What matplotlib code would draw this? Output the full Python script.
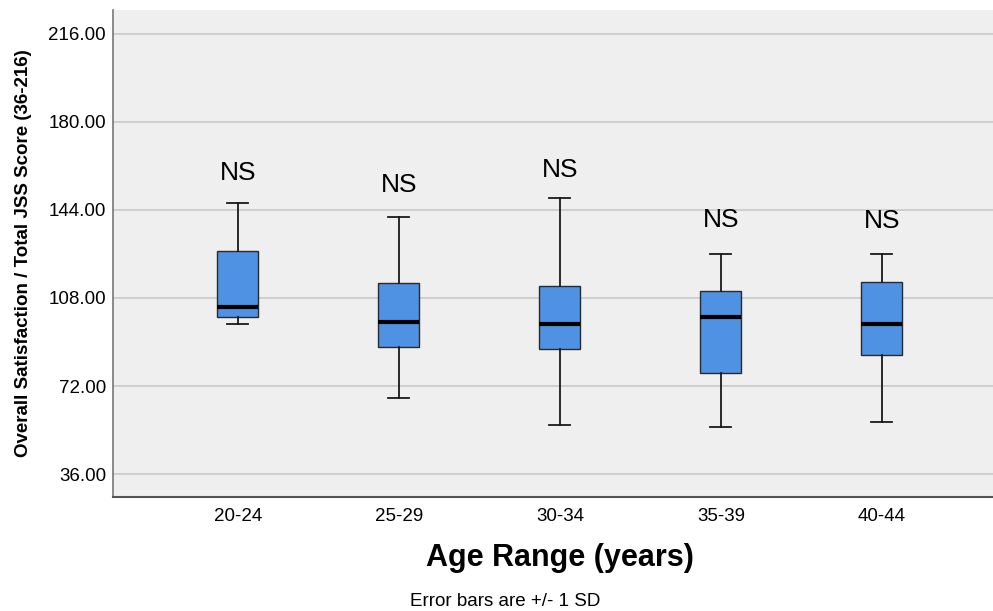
import matplotlib
matplotlib.use("Agg")
import matplotlib.pyplot as plt
from matplotlib.ticker import FormatStrFormatter

plt.rcParams['font.family'] = ['Liberation Sans', 'DejaVu Sans']

# ---- data ----
categories = ["20-24", "25-29", "30-34", "35-39", "40-44"]
whislo = [97.2, 67.2, 56.1, 55.3, 57.2]
q1 = [100.1, 88.1, 87.1, 77.3, 84.8]
med = [104.2, 98.2, 97.3, 100.2, 97.3]
q3 = [127.2, 114.0, 113.0, 111.0, 114.4]
whishi = [147.0, 141.0, 149.0, 126.0, 126.0]
ns_labels = ["NS", "NS", "NS", "NS", "NS"]
ns_y = [159.1, 154.2, 160.4, 139.9, 139.6]
yticks = [36, 72, 108, 144, 180, 216]

fig = plt.figure(figsize=(9.93, 6.11), dpi=100)
ax = fig.add_axes([113/993, 114/611, 1 - 113/993, (497-10)/611])
ax.set_facecolor('#efefef')

stats = []
for i, c in enumerate(categories):
    stats.append(dict(label=c, whislo=whislo[i], q1=q1[i], med=med[i],
                      q3=q3[i], whishi=whishi[i], fliers=[]))

positions = list(range(len(categories)))
ax.bxp(stats, positions=positions, widths=0.255, capwidths=0.13,
       patch_artist=True, showfliers=False,
       boxprops=dict(facecolor='#4f91e3', edgecolor='#2a2a2a', linewidth=1.0),
       medianprops=dict(color='black', linewidth=3),
       whiskerprops=dict(color='#1a1a1a', linewidth=1.3),
       capprops=dict(color='#1a1a1a', linewidth=1.3),
       zorder=3)

for x, y, t in zip(positions, ns_y, ns_labels):
    ax.text(x, y, t, ha='center', va='center', fontsize=19, color='black')

ax.set_xlim(-0.776, 4.69)
ax.set_ylim(26.6, 225.8)
ax.set_yticks(yticks)
ax.yaxis.set_major_formatter(FormatStrFormatter('%.2f'))
ax.set_xticks(positions)
ax.set_xticklabels(categories)
ax.grid(axis='y', color='#c6c6c6', linewidth=1.1, zorder=0)
ax.set_axisbelow(True)
ax.tick_params(axis='both', length=0, labelsize=13.5, colors='black')
ax.tick_params(axis='x', pad=8)
ax.tick_params(axis='y', pad=5)

for s in ['top', 'right']:
    ax.spines[s].set_visible(False)
ax.spines['left'].set_color('#777777')
ax.spines['left'].set_linewidth(1.2)
ax.spines['bottom'].set_color('#555555')
ax.spines['bottom'].set_linewidth(1.5)

ax.set_ylabel("Overall Satisfaction / Total JSS Score (36-216)",
              fontsize=13.5, fontweight='bold', labelpad=12)

fig.text(560/993, (611-566)/611, "Age Range (years)", ha='center',
         va='baseline', fontsize=22, fontweight='bold')
fig.text(505/993, (611-606)/611, "Error bars are +/- 1 SD", ha='center',
         va='baseline', fontsize=13.5)

fig.savefig("out.png", dpi=100)
